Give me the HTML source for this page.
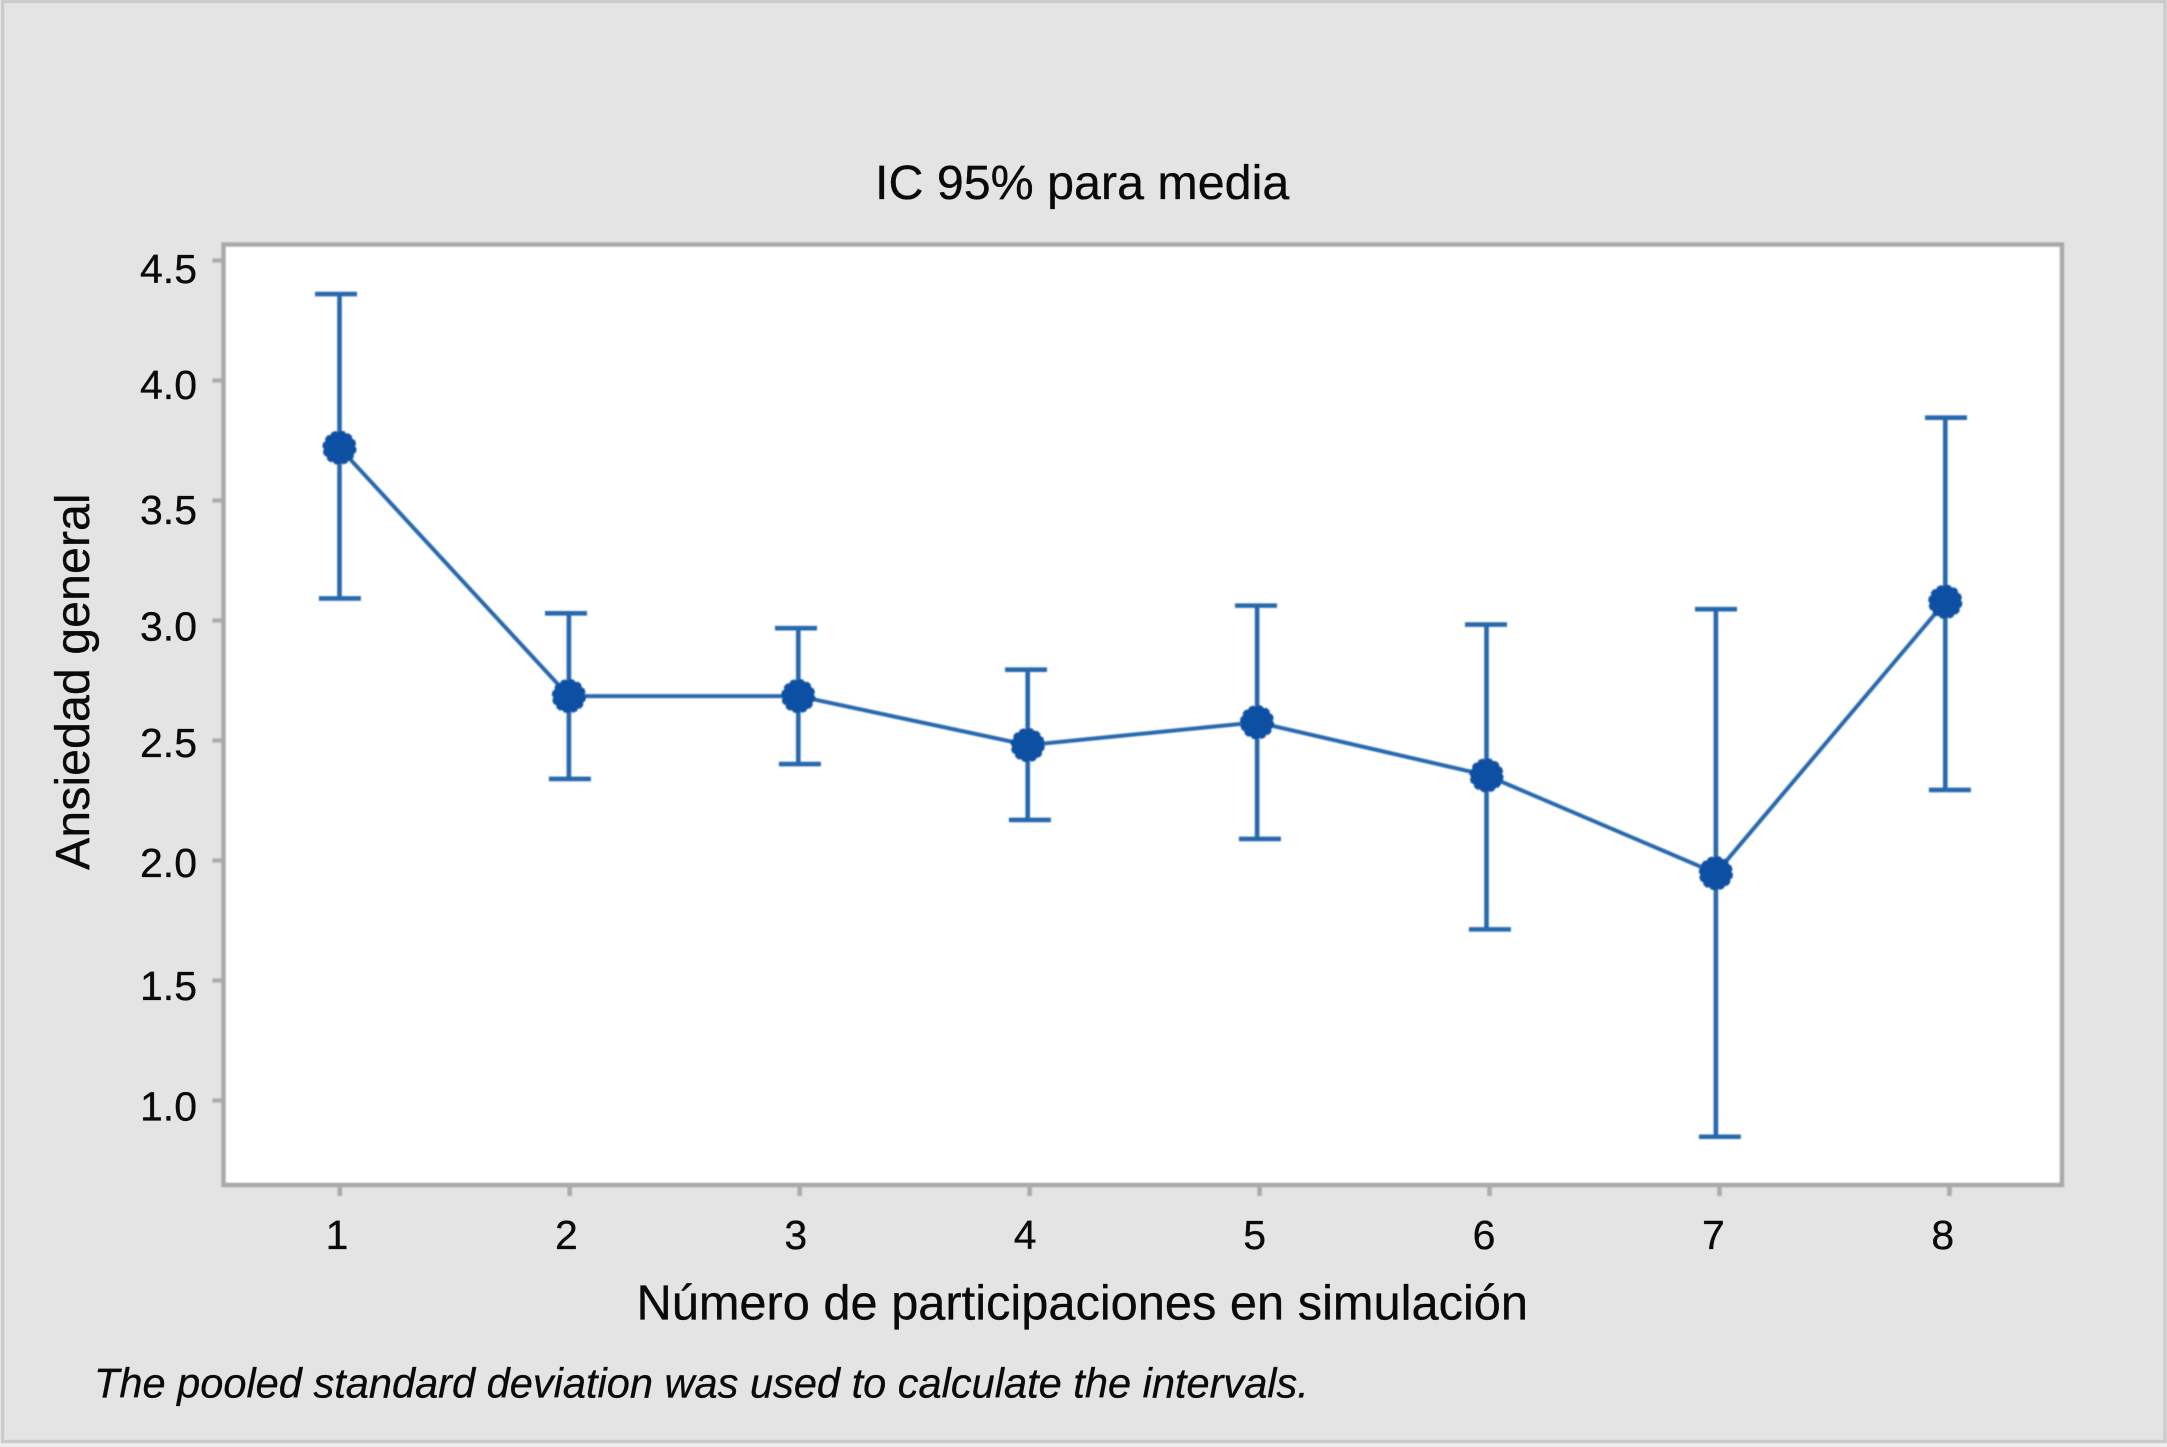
<!DOCTYPE html>
<html lang="es">
<head>
<meta charset="utf-8">
<title>IC 95% para media</title>
<style>
html,body{margin:0;padding:0;background:#e4e4e4;}
svg{display:block;}
text{font-family:"Liberation Sans",Arial,sans-serif;fill:#0a0a0a;stroke:#0a0a0a;stroke-width:.3px;}
</style>
</head>
<body>
<svg id="chart" xmlns="http://www.w3.org/2000/svg" width="2167" height="1447" viewBox="0 0 2167 1447">
  <defs>
    <filter id="soft" x="-5%" y="-5%" width="110%" height="110%"><feGaussianBlur stdDeviation="0.7"/></filter>
  </defs>
  <rect x="0" y="0" width="2167" height="1447" fill="#efefef"/>
  <rect x="2.5" y="1.5" width="2162.5" height="1440" fill="#e4e4e4" stroke="#cbcbcb" stroke-width="3.4"/>
  <rect x="223.5" y="244.5" width="1838.5" height="940.5" fill="#ffffff"/>
  <g id="ticks" filter="url(#soft)"></g>
  <path d="M223.5 1185V244.5H2062V1185Z" fill="none" stroke="#a9a9a9" stroke-width="4.4" filter="url(#soft)"/>
  <g id="marks" filter="url(#soft)"></g>

  <text x="875" y="199" font-size="48.4">IC 95% para media</text>

  <g font-size="41" text-anchor="end">
    <text x="197" y="283">4.5</text>
    <text x="197" y="399">4.0</text>
    <text x="197" y="524">3.5</text>
    <text x="197" y="640.5">3.0</text>
    <text x="197" y="757">2.5</text>
    <text x="197" y="877">2.0</text>
    <text x="197" y="1000">1.5</text>
    <text x="197" y="1120.5">1.0</text>
  </g>

  <g font-size="41" text-anchor="middle">
    <text x="337" y="1249">1</text>
    <text x="566.4" y="1249">2</text>
    <text x="795.8" y="1249">3</text>
    <text x="1025.2" y="1249">4</text>
    <text x="1254.6" y="1249">5</text>
    <text x="1484" y="1249">6</text>
    <text x="1713.4" y="1249">7</text>
    <text x="1942.8" y="1249">8</text>
  </g>

  <text transform="translate(89 870) rotate(-90)" font-size="48.4">Ansiedad general</text>
  <text x="636.5" y="1319.5" font-size="48.75">Número de participaciones en simulación</text>
  <text x="94" y="1397.5" font-size="41.55" font-style="italic">The pooled standard deviation was used to calculate the intervals.</text>
</svg>

<script>
const categories = [1, 2, 3, 4, 5, 6, 7, 8];
const yTicks = [4.5, 4.0, 3.5, 3.0, 2.5, 2.0, 1.5, 1.0];
const means = [3.72, 2.685, 2.685, 2.481, 2.576, 2.355, 1.947, 3.078];
const upperBounds = [4.36, 3.03, 2.968, 2.795, 3.062, 2.983, 3.047, 3.845];
const lowerBounds = [3.092, 2.34, 2.402, 2.169, 2.09, 1.713, 0.849, 2.294];

const SVG_NS = 'http://www.w3.org/2000/svg';
const STEM_COLOR = '#2767ad';
const MARKER_COLOR = '#0f4fa3';
const AXIS_COLOR = '#ababab';

function yScale(v) { return 260.5 + (4.5 - v) * 240; }
function xScale(c) { return 339.5 + (c - 1) * 229.4; }
function xTickScale(c) { return 339.8 + (c - 1) * 229.95; }
function upperCapX(c) { return 336 + (c - 1) * 230; }
function lowerCapX(c) { return 339.9 + (c - 1) * 230; }

function make(tag, attrs) {
  const el = document.createElementNS(SVG_NS, tag);
  Object.keys(attrs).forEach(function (k) { el.setAttribute(k, attrs[k]); });
  return el;
}

const ticksGroup = document.getElementById('ticks');
const marksGroup = document.getElementById('marks');

yTicks.forEach(function (t) {
  const tick = make('line', { x1: 212.5, x2: 223.5, y1: yScale(t), y2: yScale(t), stroke: AXIS_COLOR, 'stroke-width': 4.2 });
  
  
  ticksGroup.appendChild(tick);
});

categories.forEach(function (c) {
  const tick = make('line', { x1: xTickScale(c), x2: xTickScale(c), y1: 1185, y2: 1196, stroke: AXIS_COLOR, 'stroke-width': 4.6 });
  
  
  ticksGroup.appendChild(tick);
});

const meanPoints = categories.map(function (c, i) { return xScale(c) + ',' + yScale(means[i]); }).join(' ');
const meanLine = make('polyline', { points: meanPoints, fill: 'none', stroke: STEM_COLOR, 'stroke-width': 4 });


marksGroup.appendChild(meanLine);

categories.forEach(function (c, i) {
  const stem = make('line', { x1: xScale(c), x2: xScale(c), y1: yScale(upperBounds[i]), y2: yScale(lowerBounds[i]), stroke: STEM_COLOR, 'stroke-width': 4.6 });
  
  
  marksGroup.appendChild(stem);

  const upCap = make('line', { x1: upperCapX(c) - 21, x2: upperCapX(c) + 21, y1: yScale(upperBounds[i]), y2: yScale(upperBounds[i]), stroke: STEM_COLOR, 'stroke-width': 4.6 });
  
  
  marksGroup.appendChild(upCap);

  const lowCap = make('line', { x1: lowerCapX(c) - 21, x2: lowerCapX(c) + 21, y1: yScale(lowerBounds[i]), y2: yScale(lowerBounds[i]), stroke: STEM_COLOR, 'stroke-width': 4.6 });
  
  
  marksGroup.appendChild(lowCap);

  const marker = make('circle', { cx: xScale(c), cy: yScale(means[i]), r: 16, fill: MARKER_COLOR, stroke: MARKER_COLOR, 'stroke-width': 2.2, 'stroke-dasharray': '5.2 3.18' });
  
  
  marksGroup.appendChild(marker);
});
</script>
</body>
</html>
